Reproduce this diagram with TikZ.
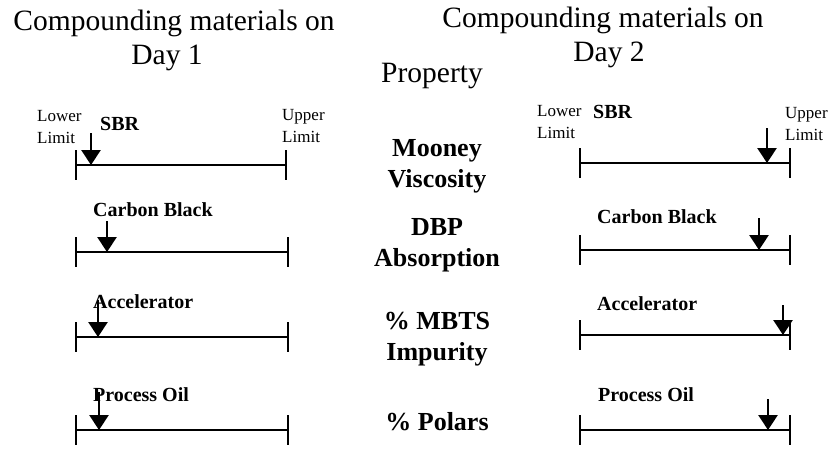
\documentclass[tikz,border=0pt]{standalone}
\usepackage{fontspec}
\setmainfont{Liberation Serif}
\usetikzlibrary{arrows.meta}
\begin{document}
\begin{tikzpicture}[x=1pt,y=-1pt,
  % multi-line nodes: the base anchor sits on the last line
  heading/.style={font=\fontsize{29.5}{34}\selectfont, align=center, inner sep=0pt, anchor=base},
  propname/.style={font=\bfseries\fontsize{26}{31}\selectfont, align=center, inner sep=0pt, anchor=base},
  material/.style={font=\bfseries\fontsize{20}{24}\selectfont, inner sep=0pt, anchor=base west},
  limit/.style={font=\fontsize{17}{22}\selectfont, align=left, inner sep=0pt, anchor=base west},
  rule/.style={line width=2.4pt},
  endtick/.style={line width=2.4pt},
  marker/.style={line width=2.8pt, -{Triangle[width=19pt,length=15pt]}},
]
\useasboundingbox (0,0) rectangle (837,448);

% column headings
\node[heading] (h1) at (174,64) {Compounding materials on\\Day 1\hspace*{14pt}};
\node[heading] (h2) at (603,61) {Compounding materials on\\\hspace*{12pt}Day 2};
\node[font=\fontsize{29.5}{34}\selectfont, inner sep=0pt, anchor=base] (prop) at (432,82) {Property};

% property names in the middle column
\node[propname] (p1) at (437,187) {Mooney\\Viscosity};
\node[propname] (p2) at (437,266) {DBP\\Absorption};
\node[propname] (p3) at (437,360) {\% MBTS\\Impurity};
\node[propname] (p4) at (437,430) {\% Polars};

% range bars: name / left x / right x / y
\foreach \n/\xa/\xb/\y in {a1/76/286/165, a2/76/288/252, a3/76/288/337, a4/76/288/430,
                           b1/580/790/163, b2/580/790/250, b3/580/790/335, b4/580/790/430} {
  \coordinate (\n lo) at (\xa,\y);
  \coordinate (\n hi) at (\xb,\y);
  \draw[rule] (\n lo) -- (\n hi);
  \draw[endtick] (\n lo) ++(0,-15) -- ++(0,30);
  \draw[endtick] (\n hi) ++(0,-15) -- ++(0,30);
}

% limit labels
\node[limit] (lla) at (37,143) {Lower\\Limit};
\node[limit] (ula) at (282,142) {Upper\\Limit};
\node[limit] (llb) at (537,138) {Lower\\Limit};
\node[limit] (ulb) at (785,140) {Upper\\Limit};

% material names
\node[material] (ma1) at (100,130) {SBR};
\node[material] (ma2) at (93,216) {Carbon Black};
\node[material] (ma3) at (93,308) {Accelerator};
\node[material] (ma4) at (93,401) {Process Oil};
\node[material] (mb1) at (593,118) {SBR};
\node[material] (mb2) at (597,223) {Carbon Black};
\node[material] (mb3) at (597,310) {Accelerator};
\node[material] (mb4) at (598,401) {Process Oil};

% position markers: name / x / top y
\foreach \n/\x/\t in {a1/91/133, a2/107/221, a3/98/300, a4/99/392,
                      b1/767/128, b2/759/218, b3/783/305, b4/768/399} {
  \coordinate (\n top) at (\x,\t);
  \draw[marker] (\n top) -- (\n top |- \n lo);
}

\end{tikzpicture}
\end{document}
